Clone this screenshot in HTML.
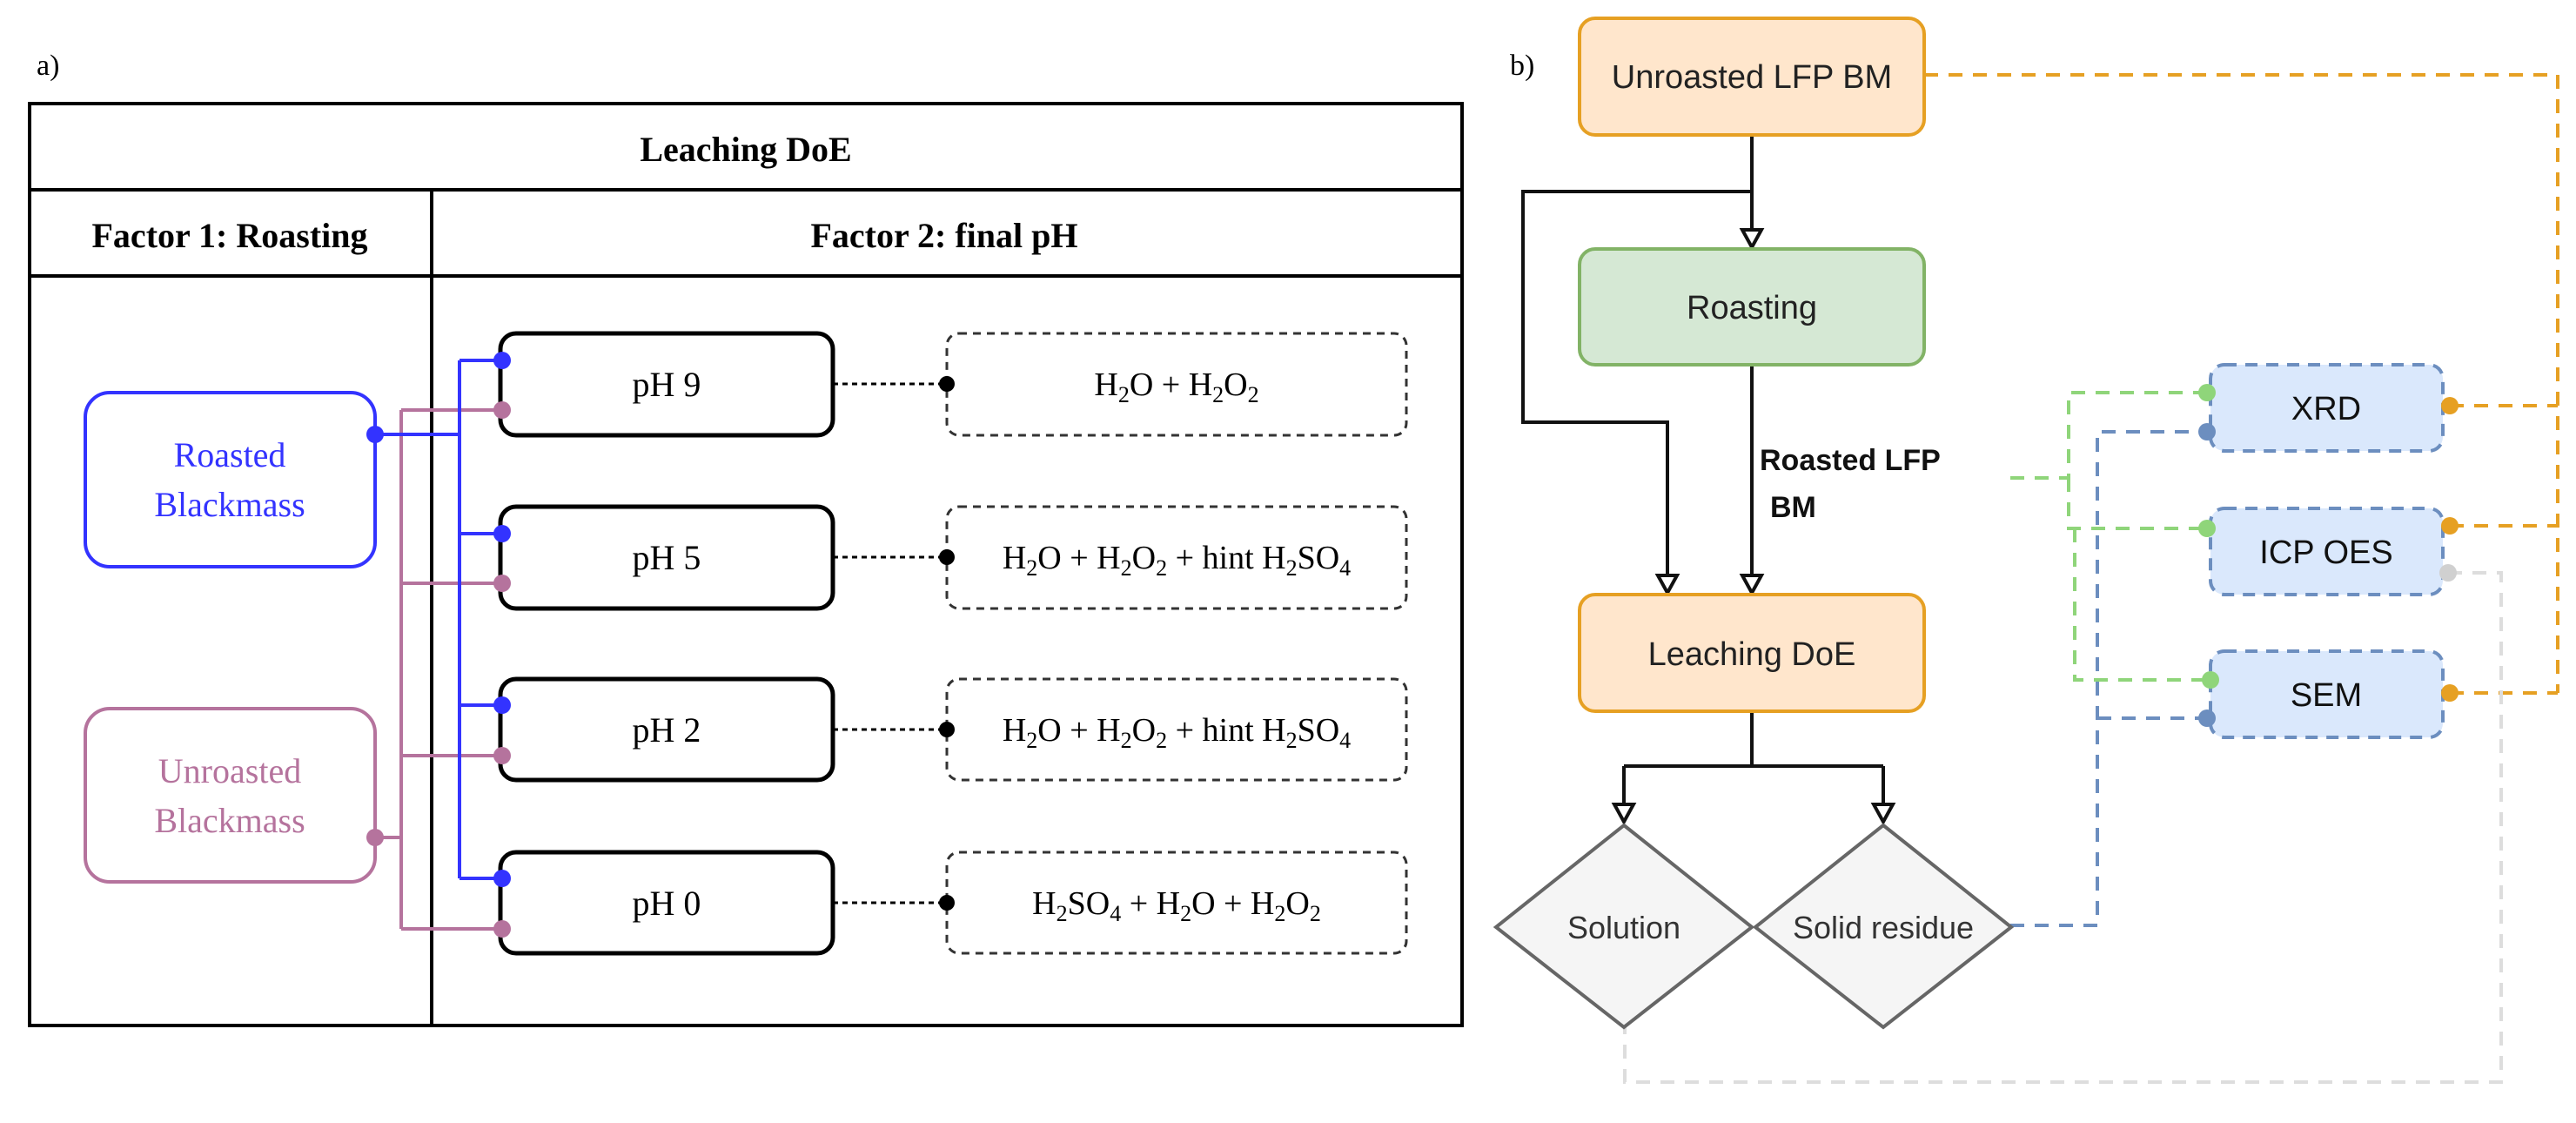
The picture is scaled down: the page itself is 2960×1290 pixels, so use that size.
<!DOCTYPE html>
<html><head><meta charset="utf-8"><style>
html,body{margin:0;padding:0;background:#fff;}
svg{display:block}
.serif{font-family:"Liberation Serif",serif}
.sans{font-family:"Liberation Sans",sans-serif}
</style></head><body>
<svg width="2960" height="1290" viewBox="0 0 2960 1290" xmlns="http://www.w3.org/2000/svg">
<!-- Panel a -->
<text x="42" y="86" class="serif" font-size="34">a)</text>
<g fill="none" stroke="#000" stroke-width="4">
<rect x="34" y="119" width="1646" height="1059"/>
<line x1="34" y1="218" x2="1680" y2="218"/>
<line x1="34" y1="317" x2="1680" y2="317"/>
<line x1="496" y1="218" x2="496" y2="1178"/>
</g>
<text x="857" y="185" class="serif" font-size="40" font-weight="bold" text-anchor="middle">Leaching DoE</text>
<text x="264" y="284" class="serif" font-size="40" font-weight="bold" text-anchor="middle">Factor 1: Roasting</text>
<text x="1085" y="284" class="serif" font-size="40" font-weight="bold" text-anchor="middle">Factor 2: final pH</text>

<rect x="98" y="451" width="333" height="200" rx="28" fill="#fff" stroke="#3333ff" stroke-width="4"/>
<text x="264" y="536" class="serif" font-size="40" fill="#3333ff" text-anchor="middle">Roasted</text>
<text x="264" y="593" class="serif" font-size="40" fill="#3333ff" text-anchor="middle">Blackmass</text>
<rect x="98" y="814" width="333" height="199" rx="28" fill="#fff" stroke="#b5739d" stroke-width="4"/>
<text x="264" y="899" class="serif" font-size="40" fill="#b5739d" text-anchor="middle">Unroasted</text>
<text x="264" y="956" class="serif" font-size="40" fill="#b5739d" text-anchor="middle">Blackmass</text>

<g fill="none" stroke="#b5739d" stroke-width="4">
<path d="M431 962 H461 M461 471 V1067 M461 471 H577 M461 670 H577 M461 868 H577 M461 1067 H577"/>
</g>
<g fill="none" stroke="#3333ff" stroke-width="4">
<path d="M431 499 H528 M528 414 V1009 M528 414 H577 M528 613 H577 M528 810 H577 M528 1009 H577"/>
</g>

<g fill="#fff" stroke="#000" stroke-width="5">
<rect x="575" y="383" width="382" height="117" rx="18"/>
<rect x="575" y="582" width="382" height="117" rx="18"/>
<rect x="575" y="780" width="382" height="116" rx="18"/>
<rect x="575" y="979" width="382" height="116" rx="18"/>
</g>
<g fill="#3333ff"><circle cx="431" cy="499" r="10"/><circle cx="577" cy="414" r="10"/><circle cx="577" cy="613" r="10"/><circle cx="577" cy="810" r="10"/><circle cx="577" cy="1009" r="10"/></g>
<g fill="#b5739d"><circle cx="431" cy="962" r="10"/><circle cx="577" cy="471" r="10"/><circle cx="577" cy="670" r="10"/><circle cx="577" cy="868" r="10"/><circle cx="577" cy="1067" r="10"/></g>
<g class="serif" font-size="40" text-anchor="middle">
<text x="766" y="455">pH 9</text><text x="766" y="654">pH 5</text><text x="766" y="852">pH 2</text><text x="766" y="1051">pH 0</text>
</g>
<g fill="none" stroke="#333" stroke-width="3" stroke-dasharray="9 7">
<rect x="1088" y="383" width="528" height="117" rx="14"/>
<rect x="1088" y="582" width="528" height="117" rx="14"/>
<rect x="1088" y="780" width="528" height="116" rx="14"/>
<rect x="1088" y="979" width="528" height="116" rx="14"/>
</g>
<g fill="none" stroke="#000" stroke-width="3" stroke-dasharray="6 5">
<path d="M957 441 H1088 M957 640 H1088 M957 838 H1088 M957 1037 H1088"/>
</g>
<g fill="#000"><circle cx="1088" cy="441" r="9"/><circle cx="1088" cy="640" r="9"/><circle cx="1088" cy="838" r="9"/><circle cx="1088" cy="1037" r="9"/></g>
<g class="serif" font-size="38" text-anchor="middle">
<text x="1352" y="454">H<tspan font-size="26" dy="8">2</tspan><tspan dy="-8">O + H</tspan><tspan font-size="26" dy="8">2</tspan><tspan dy="-8">O</tspan><tspan font-size="26" dy="8">2</tspan></text>
<text x="1352" y="653">H<tspan font-size="26" dy="8">2</tspan><tspan dy="-8">O + H</tspan><tspan font-size="26" dy="8">2</tspan><tspan dy="-8">O</tspan><tspan font-size="26" dy="8">2</tspan><tspan dy="-8"> + hint H</tspan><tspan font-size="26" dy="8">2</tspan><tspan dy="-8">SO</tspan><tspan font-size="26" dy="8">4</tspan></text>
<text x="1352" y="851">H<tspan font-size="26" dy="8">2</tspan><tspan dy="-8">O + H</tspan><tspan font-size="26" dy="8">2</tspan><tspan dy="-8">O</tspan><tspan font-size="26" dy="8">2</tspan><tspan dy="-8"> + hint H</tspan><tspan font-size="26" dy="8">2</tspan><tspan dy="-8">SO</tspan><tspan font-size="26" dy="8">4</tspan></text>
<text x="1352" y="1050">H<tspan font-size="26" dy="8">2</tspan><tspan dy="-8">SO</tspan><tspan font-size="26" dy="8">4</tspan><tspan dy="-8"> + H</tspan><tspan font-size="26" dy="8">2</tspan><tspan dy="-8">O + H</tspan><tspan font-size="26" dy="8">2</tspan><tspan dy="-8">O</tspan><tspan font-size="26" dy="8">2</tspan></text>
</g>

<!-- Panel b -->
<text x="1735" y="86" class="serif" font-size="34">b)</text>
<g fill="none" stroke-width="4" stroke-dasharray="16 12">
<path d="M2211 86 H2939 V796 M2815 466 H2939 M2815 604 H2939 M2815 796 H2939" stroke="#e6a023"/>
<path d="M2310 549 H2377 V451 H2536 M2377 549 V607 H2536 M2384 607 V781 H2536" stroke="#8fd57a"/>
<path d="M2310 1063 H2410 V496 H2536 M2410 825 H2536" stroke="#6c8ebf"/>
<path d="M2813 658 H2874 V1243 H1867 V1180" stroke="#dddddd"/>
</g>
<g fill="none" stroke="#111" stroke-width="4">
<path d="M2013 155 V266 M2013 220 H1750 V485 H1916 V663 M2013 419 V663 M2013 817 V880 M1866 880 H2164 M1866 880 V926 M2164 880 V926"/>
</g>
<g fill="#fff" stroke="#111" stroke-width="4">
<polygon points="2002,264 2024,264 2013,284"/>
<polygon points="1905,661 1927,661 1916,681"/>
<polygon points="2002,661 2024,661 2013,681"/>
<polygon points="1855,924 1877,924 1866,944"/>
<polygon points="2153,924 2175,924 2164,944"/>
</g>
<rect x="1815" y="21" width="396" height="134" rx="18" fill="#ffe6cc" stroke="#e6a023" stroke-width="4"/>
<text x="2013" y="101" class="sans" font-size="38" text-anchor="middle" fill="#222">Unroasted LFP BM</text>
<rect x="1815" y="286" width="396" height="133" rx="18" fill="#d5e8d4" stroke="#82b366" stroke-width="4"/>
<text x="2013" y="366" class="sans" font-size="38" text-anchor="middle" fill="#222">Roasting</text>
<rect x="1815" y="683" width="396" height="134" rx="18" fill="#ffe6cc" stroke="#e6a023" stroke-width="4"/>
<text x="2013" y="764" class="sans" font-size="38" text-anchor="middle" fill="#222">Leaching DoE</text>
<text x="2022" y="540" class="sans" font-size="34" font-weight="bold" fill="#111">Roasted LFP</text>
<text x="2034" y="594" class="sans" font-size="34" font-weight="bold" fill="#111">BM</text>

<polygon points="1866,948 2013,1065 1866,1180 1719,1065" fill="#f5f5f5" stroke="#666" stroke-width="4"/>
<polygon points="2164,948 2311,1065 2164,1180 2017,1065" fill="#f5f5f5" stroke="#666" stroke-width="4"/>
<text x="1866" y="1078" class="sans" font-size="36" text-anchor="middle" fill="#333">Solution</text>
<text x="2164" y="1078" class="sans" font-size="36" text-anchor="middle" fill="#333">Solid residue</text>

<g fill="#dae8fc" stroke="#6c8ebf" stroke-width="4" stroke-dasharray="14 10">
<rect x="2540" y="419" width="267" height="99" rx="16"/>
<rect x="2540" y="584" width="267" height="99" rx="16"/>
<rect x="2540" y="748" width="267" height="99" rx="16"/>
</g>
<g class="sans" font-size="38" text-anchor="middle" fill="#111">
<text x="2673" y="482">XRD</text><text x="2673" y="647">ICP OES</text><text x="2673" y="811">SEM</text>
</g>
<g fill="#8fd57a"><circle cx="2536" cy="451" r="10"/><circle cx="2536" cy="607" r="10"/><circle cx="2540" cy="781" r="10"/></g>
<g fill="#6c8ebf"><circle cx="2536" cy="496" r="10"/><circle cx="2536" cy="825" r="10"/></g>
<g fill="#e6a023"><circle cx="2815" cy="466" r="10"/><circle cx="2815" cy="604" r="10"/><circle cx="2815" cy="796" r="10"/></g>
<circle cx="2813" cy="658" r="10" fill="#d0d0d0"/>
</svg>
</body></html>
